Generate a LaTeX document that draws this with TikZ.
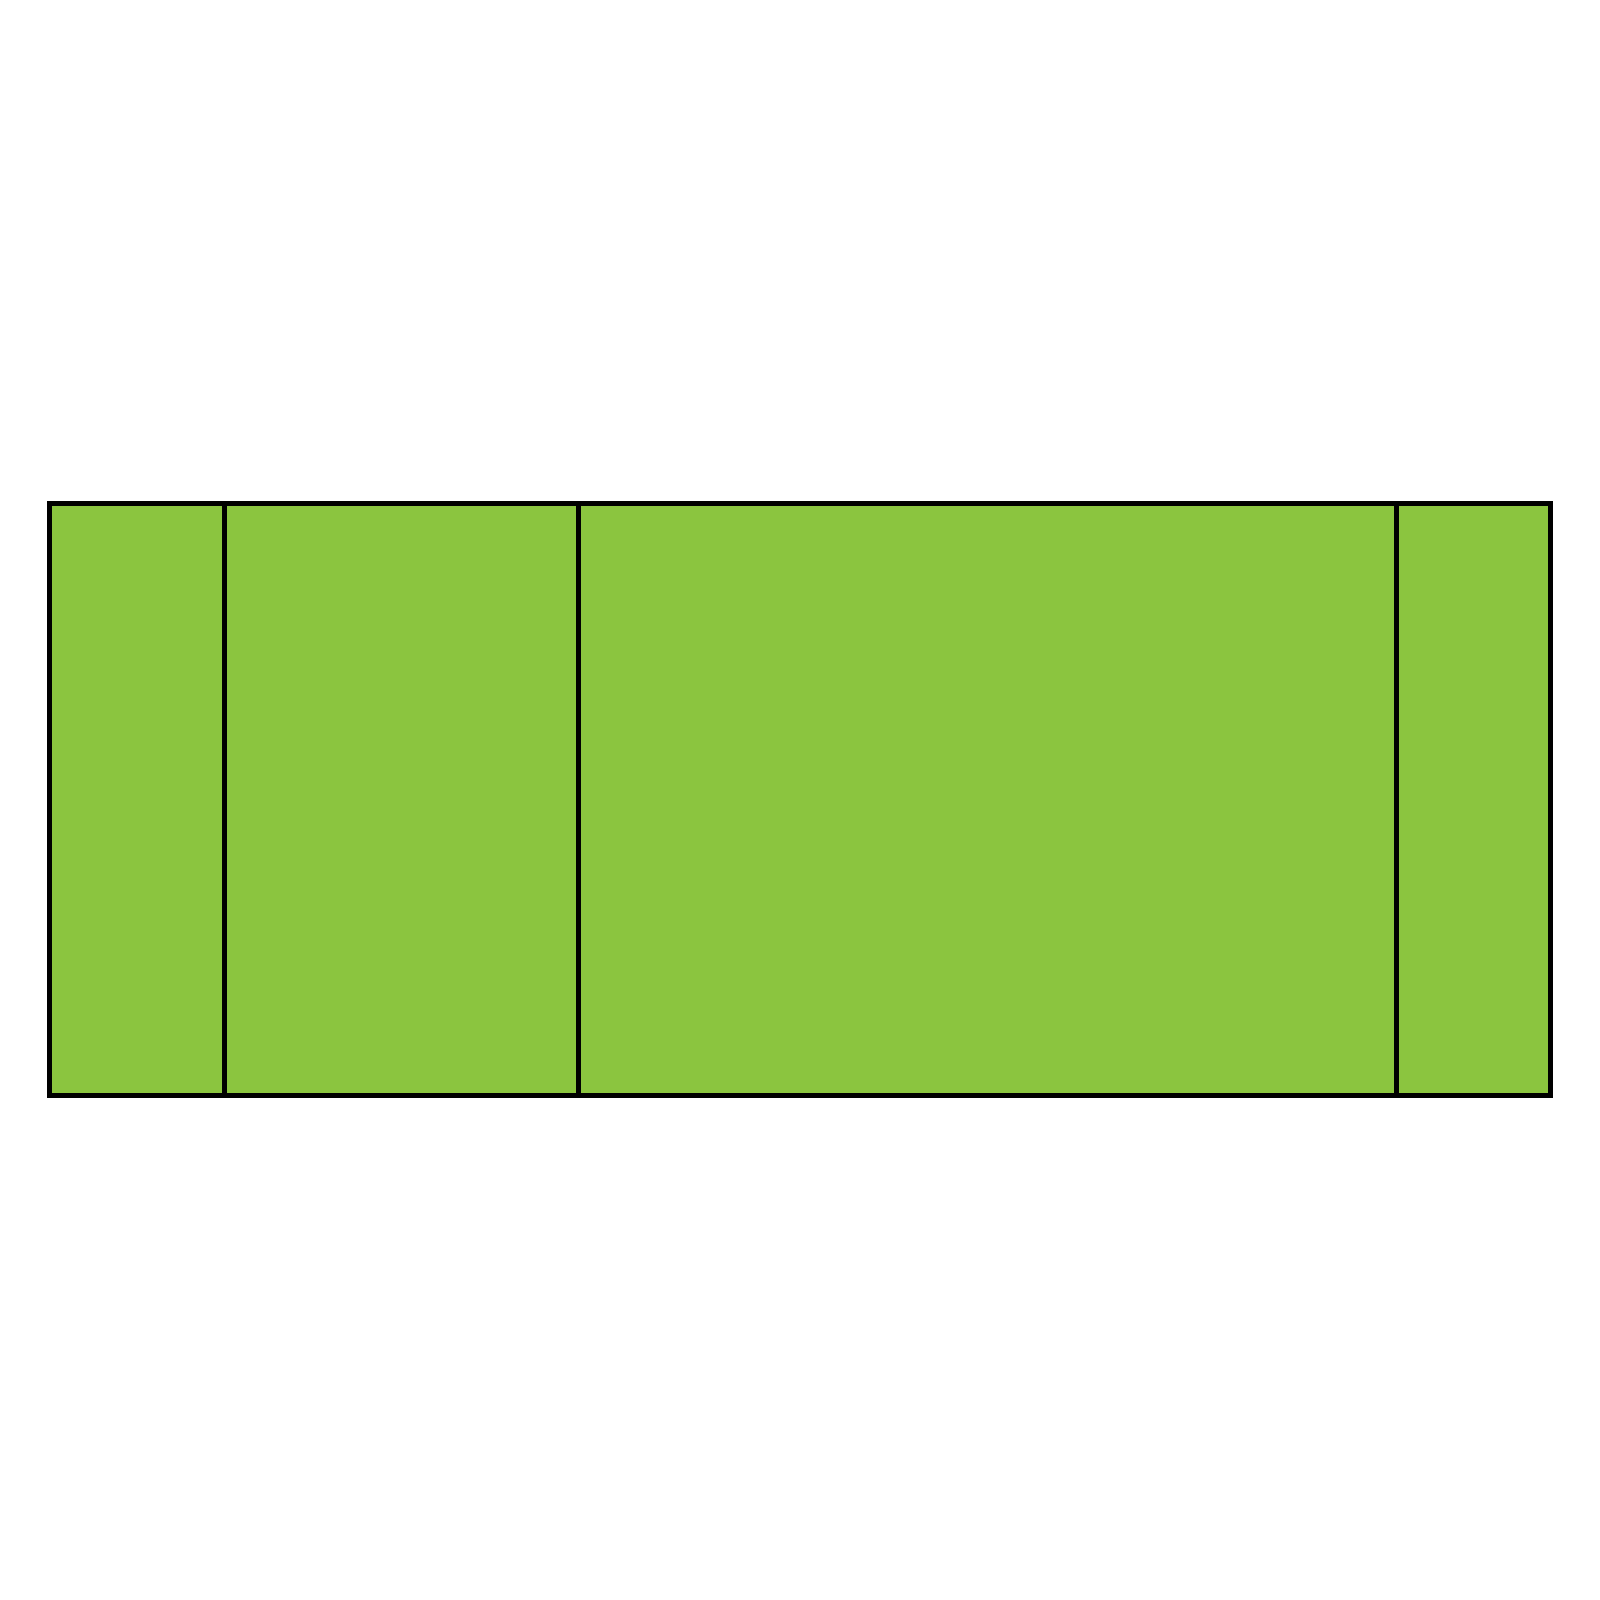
\documentclass[tikz,border=0pt]{standalone}
\usepackage{tikz}
\definecolor{bar green}{HTML}{8BC53F}
\tikzset{cell/.style={fill=bar green, draw=black, line width=0.05cm, line join=miter}}

\begin{document}
\begin{tikzpicture}
        \useasboundingbox (0, 0) rectangle (16, 16);
        \foreach \l/\r in {0.495/2.245, 2.245/5.785, 5.785/13.965, 13.965/15.5} {
            \draw[cell] (\l, 5.04) rectangle (\r, 10.965);
        }
    \end{tikzpicture}
\end{document}
